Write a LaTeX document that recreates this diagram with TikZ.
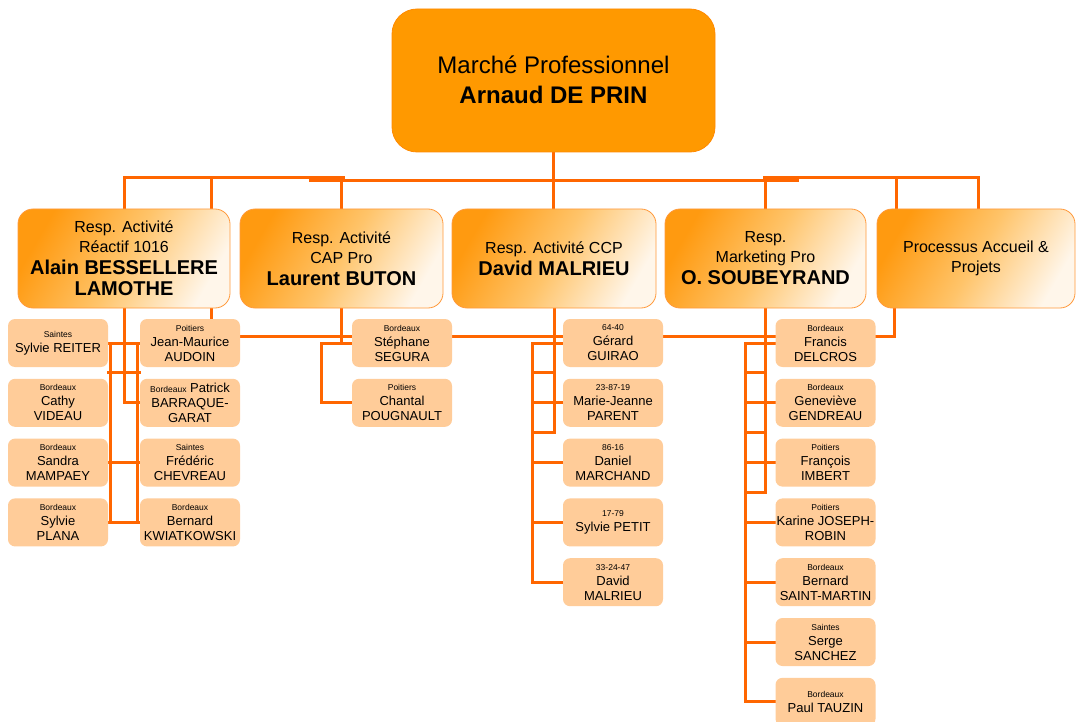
\documentclass[tikz,border=0pt]{standalone}
\usepackage{fontspec}
\setmainfont{Liberation Sans}
\usetikzlibrary{calc}
\pgfdeclarelayer{bg}
\pgfsetlayers{bg,main}
\definecolor{connc}{HTML}{FF6600}
\definecolor{topfill}{HTML}{FF9900}
\definecolor{topdraw}{HTML}{FF8A00}
\definecolor{gradA}{HTML}{FF9A10}
\definecolor{gradM}{HTML}{FFC46A}
\definecolor{gradB}{HTML}{FFF6EA}
\definecolor{peach}{HTML}{FFCC99}
\definecolor{lvdraw}{HTML}{FF9A3C}
\newcommand\mylbl{\fontsize{8.5}{10}\selectfont}
\newcommand\mybn{\fontsize{20}{24}\selectfont\bfseries}
\begin{document}
\begin{tikzpicture}[x=1pt,y=-1pt,
  conn/.style={draw=connc,line width=3pt,line cap=rect},
  topbox/.style={draw=topdraw,line width=0.8pt,fill=topfill,rounded corners=25pt,
    minimum width=323pt,minimum height=143pt,align=center,inner sep=0pt,
    font=\fontsize{24}{30}\selectfont},
  lvbox/.style={draw=lvdraw,line width=0.8pt,rounded corners=15pt,minimum height=99pt,
    align=center,inner sep=0pt,top color=gradA,bottom color=gradB,middle color=gradM,shading angle=60,
    font=\fontsize{16}{20}\selectfont},
  smallbox/.style={fill=peach,rounded corners=7pt,minimum width=100pt,minimum height=48pt,
    align=center,inner sep=0pt,font=\fontsize{13}{15}\selectfont},
]
\useasboundingbox (0,0) rectangle (1076,722);

% top
\node[topbox] (top) at (553.5,80.5) {\raisebox{0pt}[\dimexpr\height+4pt][\depth]{\begin{tabular}{@{}c@{}}Marché Professionnel\\\textbf{Arnaud DE PRIN}\end{tabular}}};

% level 2
\node[lvbox,minimum width=212pt] (alain) at (124,258.5)
  {Resp. Activité\\Réactif 1016\\[2pt]{\mybn Alain BESSELLERE}\\[1pt]{\mybn LAMOTHE}};
\node[lvbox,minimum width=203pt] (laurent) at (341.5,258.5)
  {Resp. Activité\\CAP Pro\\[2pt]{\mybn Laurent BUTON}};
\node[lvbox,minimum width=204pt] (david) at (554,258.5)
  {Resp. Activité CCP\\[2pt]{\mybn David MALRIEU}};
\node[lvbox,minimum width=201pt] (marketing) at (765.5,258.5)
  {Resp.\\Marketing Pro\\[2pt]{\mybn O. SOUBEYRAND}};
\node[lvbox,minimum width=198pt] (processus) at (976,258.5)
  {Processus Accueil \&\\Projets};

% column A
\node[smallbox] (A1) at (58,343)   {{\mylbl Saintes}\\Sylvie REITER};
\node[smallbox] (A2) at (58,402.8) {{\mylbl Bordeaux}\\Cathy\\VIDEAU};
\node[smallbox] (A3) at (58,462.6) {{\mylbl Bordeaux}\\Sandra\\MAMPAEY};
\node[smallbox] (A4) at (58,522.4) {{\mylbl Bordeaux}\\Sylvie\\PLANA};
% column B
\node[smallbox] (B1) at (190,343)   {{\mylbl Poitiers}\\Jean-Maurice\\AUDOIN};
\node[smallbox] (B2) at (190,402.8) {{\mylbl Bordeaux} Patrick\\BARRAQUE-\\GARAT};
\node[smallbox] (B3) at (190,462.6) {{\mylbl Saintes}\\Frédéric\\CHEVREAU};
\node[smallbox] (B4) at (190,522.4) {{\mylbl Bordeaux}\\Bernard\\KWIATKOWSKI};
% column C
\node[smallbox] (C1) at (402,343)   {{\mylbl Bordeaux}\\Stéphane\\SEGURA};
\node[smallbox] (C2) at (402,402.8) {{\mylbl Poitiers}\\Chantal\\POUGNAULT};
% column D
\node[smallbox] (D1) at (613,343)   {{\mylbl 64-40}\\Gérard\\GUIRAO};
\node[smallbox] (D2) at (613,402.8) {{\mylbl 23-87-19}\\Marie-Jeanne\\PARENT};
\node[smallbox] (D3) at (613,462.6) {{\mylbl 86-16}\\Daniel\\MARCHAND};
\node[smallbox] (D4) at (613,522.4) {{\mylbl 17-79}\\Sylvie PETIT};
\node[smallbox] (D5) at (613,582.2) {{\mylbl 33-24-47}\\David\\MALRIEU};
% column E
\node[smallbox] (E1) at (825.5,343)   {{\mylbl Bordeaux}\\Francis\\DELCROS};
\node[smallbox] (E2) at (825.5,402.8) {{\mylbl Bordeaux}\\Geneviève\\GENDREAU};
\node[smallbox] (E3) at (825.5,462.6) {{\mylbl Poitiers}\\François\\IMBERT};
\node[smallbox] (E4) at (825.5,522.4) {{\mylbl Poitiers}\\Karine JOSEPH-\\ROBIN};
\node[smallbox] (E5) at (825.5,582.2) {{\mylbl Bordeaux}\\Bernard\\SAINT-MARTIN};
\node[smallbox] (E6) at (825.5,642)   {{\mylbl Saintes}\\Serge\\SANCHEZ};
\node[smallbox] (E7) at (825.5,701.8) {{\mylbl Bordeaux}\\Paul TAUZIN};

\begin{pgfonlayer}{bg}
\fill[white] (0,0) rectangle (1076,722);
% bus coordinates
\coordinate (b1) at (310,181);
\coordinate (b2) at (797,181);
\coordinate (c2) at (343,178);
\coordinate (d1) at (764,178);
\coordinate (d2) at (978,178);
% level 1 -> level 2
\draw[conn] (top.south) -- (top.south |- david.north);
\draw[conn] (b1) -- (b2);
\draw[conn] (laurent.north) -- (laurent.north |- b1);
\draw[conn] (marketing.north) -- (marketing.north |- b1);
\draw[conn] (alain.north) |- (c2);
\draw[conn] ($(alain.north east)+(-19,0)$) |- (c2);
\draw[conn] (d1) -- (d2) -- (d2 |- processus.north);
\draw[conn] ($(processus.north west)+(20,0)$) |- (d1);
% long line behind first row
\draw[conn] ($(alain.south east)+(-19,0)$) |- ($(processus.south west)+(18,28.5)$) -- ($(processus.south west)+(18,0)$);
% left group
\draw[conn] (alain.south) |- (B2.west);
\draw[conn] ([xshift=2pt]A1.east) -- ([xshift=2pt]A4.east);
\draw[conn] ([xshift=-2pt]B1.west) -- ([xshift=-2pt]B4.west);
\draw[conn] (A1.east) -- (B1.west);
\draw[conn] (A3.east) -- (B3.west);
\draw[conn] (A4.east) -- (B4.west);
\draw[conn] ($(A1.east)!.5!(A2.east)$) -- ($(B1.west)!.5!(B2.west)$);
% Laurent group
\draw[conn] (laurent.south) -- (laurent.south |- C1.west);
\draw[conn] ([xshift=-30pt]C1.west) -- (C1.west);
\draw[conn] ([xshift=-30pt]C1.west) |- (C2.west);
% David group
\coordinate (dm12) at ($(D1.west)!.5!(D2.west)$);
\coordinate (dm23) at ($(D2.west)!.5!(D3.west)$);
\draw[conn] (david.south) -- (david.south |- dm23);
\draw[conn] ([xshift=-30pt]D1.west) -- ([xshift=-30pt]D5.west);
\foreach \k in {1,...,5} {\draw[conn] ([xshift=-30pt]D\k.west) -- (D\k.west);}
\draw[conn] ([xshift=-30pt]dm12) -- (david.south |- dm12);
\draw[conn] ([xshift=-30pt]dm23) -- (david.south |- dm23);
% Marketing group
\coordinate (em12) at ($(E1.west)!.5!(E2.west)$);
\coordinate (em23) at ($(E2.west)!.5!(E3.west)$);
\coordinate (em34) at ($(E3.west)!.5!(E4.west)$);
\draw[conn] (marketing.south) -- (marketing.south |- em34);
\draw[conn] ([xshift=-30pt]E1.west) -- ([xshift=-30pt]E7.west);
\foreach \k in {1,...,7} {\draw[conn] ([xshift=-30pt]E\k.west) -- (E\k.west);}
\draw[conn] ([xshift=-30pt]em12) -- (marketing.south |- em12);
\draw[conn] ([xshift=-30pt]em23) -- (marketing.south |- em23);
\draw[conn] ([xshift=-30pt]em34) -- (marketing.south |- em34);
\end{pgfonlayer}
\end{tikzpicture}
\end{document}
